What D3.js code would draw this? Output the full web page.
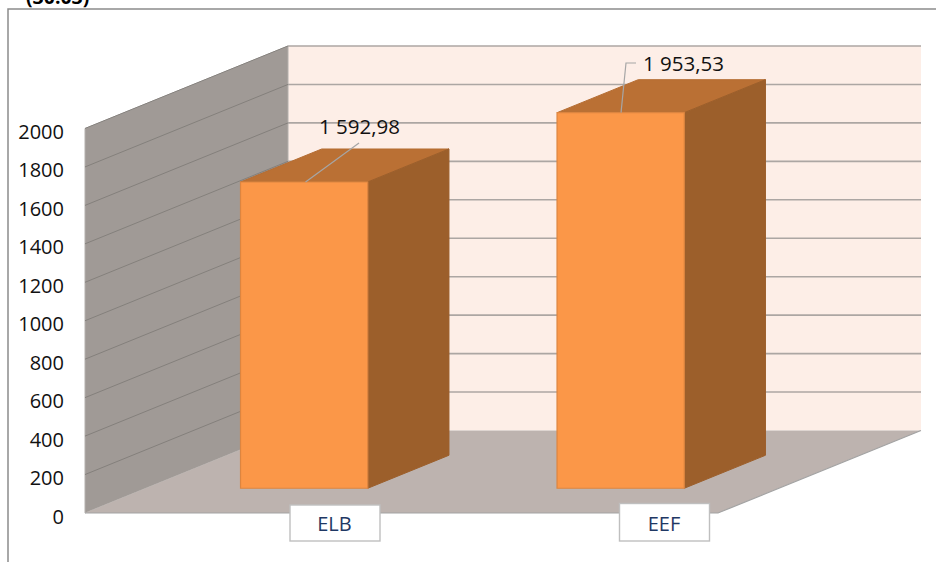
<!DOCTYPE html>
<html>
<head>
<meta charset="utf-8">
<style>
  html, body { margin: 0; padding: 0; background: #fff; }
  svg { display: block; }
  text { font-family: "Open Sans", "Noto Sans", sans-serif; }
</style>
<script src="https://cdn.jsdelivr.net/npm/d3@7.9.0/dist/d3.min.js"></script>
</head>
<body>
<svg id="chart" width="936" height="562"></svg>
<script>
const categories = ['ELB', 'EEF'];
const values = [1592.98, 1953.53];
const valueLabels = ['1 592,98', '1 953,53'];
const yTicks = [0, 200, 400, 600, 800, 1000, 1200, 1400, 1600, 1800, 2000];

const svg = d3.select('#chart');

// front edge of the floor, the depth direction is a plain oblique offset
const xBand = d3.scaleBand().domain(categories).range([85, 718]).paddingInner(0.598).paddingOuter(0.299);
const yScale = d3.scaleLinear().domain([0, 2000]).range([513, 128.5]);
const depthX = d3.scaleLinear().domain([0, 1]).range([0, 203]);
const depthY = d3.scaleLinear().domain([0, 1]).range([0, -82.5]);
const labelX = d3.scalePoint().domain(categories).range([335, 664.5]);

const project = (x, v, d) => [x + depthX(d), yScale(v) + depthY(d)];
const poly = pts => 'M' + pts.map(p => p.join(',')).join('L') + 'Z';

const left = 85, right = 718;

// outer frame
svg.append('path').attr('d', 'M8,562V9H936')
    .attr('fill', 'none').attr('stroke', '#8c8c8c').attr('stroke-width', 1.5);

// title, cut off by the top of the picture
svg.append('text').attr('x', 26).attr('y', 4).attr('font-size', 19.5).attr('font-weight', 700)
    .attr('fill', '#000').text('(30.03)');

// back wall, side wall, floor
svg.append('path')
    .attr('d', poly([project(left, 0, 1), project(left, 2000, 1), project(right, 2000, 1), project(right, 0, 1)]))
    .attr('fill', '#fdeee7');
svg.append('path')
    .attr('d', poly([project(left, 0, 0), project(left, 2000, 0), project(left, 2000, 1), project(left, 0, 1)]))
    .attr('fill', '#a09a96').attr('stroke', '#b4b0ad').attr('stroke-width', 1);
svg.append('path')
    .attr('d', poly([project(left, 0, 0), project(left, 0, 1), project(right, 0, 1), project(right, 0, 0)]))
    .attr('fill', '#bdb3af');
svg.append('path')
    .attr('d', 'M' + project(left, 0, 0).join(',') + 'L' + project(right, 0, 0).join(',') + 'L' + project(right, 0, 1).join(','))
    .attr('fill', 'none').attr('stroke', '#a3a3a3').attr('stroke-width', 1.2);

// gridlines
yTicks.slice(1).forEach(t => {
    svg.append('path')
        .attr('d', 'M' + project(left, t, 0).join(',') + 'L' + project(left, t, 1).join(','))
        .attr('fill', 'none').attr('stroke', '#84807c').attr('stroke-width', 1);
    svg.append('path')
        .attr('d', 'M' + project(left, t, 1).join(',') + 'L' + project(right, t, 1).join(','))
        .attr('fill', 'none').attr('stroke', '#aca6a3').attr('stroke-width', 1.6);
});

// y axis labels
svg.selectAll('.ytick').data(yTicks).enter().append('text')
    .attr('class', 'ytick')
    .attr('x', 64)
    .attr('y', d => yScale(d) + 10.5)
    .attr('text-anchor', 'end')
    .attr('font-size', 20)
    .attr('fill', '#111')
    .text(d => d);

// bars
const d0 = 0.3, d1 = 0.7;
categories.forEach((c, i) => {
    const x0 = xBand(c), x1 = x0 + xBand.bandwidth(), v = values[i];
    svg.append('path')
        .attr('d', poly([project(x0, v, d0), project(x0, v, d1), project(x1, v, d1), project(x1, v, d0)]))
        .attr('fill', '#ba7034').attr('stroke', '#b56d33');
    svg.append('path')
        .attr('d', poly([project(x1, 0, d0), project(x1, v, d0), project(x1, v, d1), project(x1, 0, d1)]))
        .attr('fill', '#9c5f2b').attr('stroke', '#9c5f2b');
    svg.append('path')
        .attr('d', poly([project(x0, 0, d0), project(x0, v, d0), project(x1, v, d0), project(x1, 0, d0)]))
        .attr('fill', '#fb9748').attr('stroke', '#dc8540').attr('stroke-width', 1.2);
});

// value labels with their leader lines
const leaders = [
    { dx: 65, end: [359, 143], elbow: null, tx: 319, ty: 134 },
    { dx: 64, end: [626, 63], elbow: [636, 63], tx: 643, ty: 71 }
];
categories.forEach((c, i) => {
    const start = project(xBand(c) + leaders[i].dx, values[i], d0);
    const l = leaders[i];
    const pts = [start, l.end].concat(l.elbow ? [l.elbow] : []);
    svg.append('path').attr('d', d3.line()(pts))
        .attr('fill', 'none').attr('stroke', '#a6a6a6').attr('stroke-width', 1.2);
    svg.append('text').attr('x', l.tx).attr('y', l.ty)
        .attr('font-size', 20.5).attr('fill', '#111').text(valueLabels[i]);
});

// category labels in white boxes
const boxW = 90;
categories.forEach((c, i) => {
    const cx = labelX(c), top = i === 0 ? 505 : 503.5, bottom = 541;
    svg.append('rect').attr('x', cx - boxW / 2).attr('y', top).attr('width', boxW).attr('height', bottom - top)
        .attr('fill', '#fff').attr('stroke', '#bfbfbf').attr('stroke-width', 1.4);
    svg.append('text').attr('x', cx - 0.5).attr('y', 531)
        .attr('text-anchor', 'middle').attr('font-size', 20).attr('fill', '#1f3864').text(c);
});
</script>
</body>
</html>
